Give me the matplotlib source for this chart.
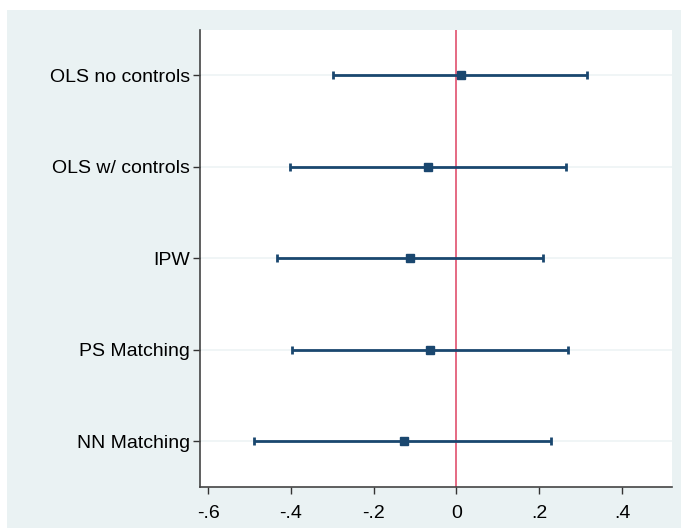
import matplotlib
matplotlib.use("Agg")
from matplotlib import pyplot as plt
from matplotlib.patches import Rectangle
import numpy as np

# estimates
models = ["OLS no controls", "OLS w/ controls", "IPW", "PS Matching", "NN Matching"]
coef = [0.010, -0.070, -0.112, -0.065, -0.128]
ci_low = [-0.298, -0.402, -0.434, -0.398, -0.490]
ci_high = [0.315, 0.264, 0.208, 0.269, 0.228]
xticks = [-0.6, -0.4, -0.2, 0, 0.2, 0.4]
xticklabels = ["-.6", "-.4", "-.2", "0", ".2", ".4"]

navy = "#1a476f"
bg = "#eaf2f3"

plt.rcParams["font.family"] = ["Liberation Sans", "DejaVu Sans"]

fig = plt.figure(figsize=(6.81, 5.28), dpi=100, facecolor="white")
W, H = 681, 528
fig.patches.append(Rectangle((7 / W, 0), 1 - 7 / W, 1 - 10 / H, transform=fig.transFigure,
                             facecolor=bg, edgecolor="none", zorder=-10))
ax = fig.add_axes([200 / W, (H - 487) / H, (672 - 200) / W, (487 - 29.5) / H])
ax.set_zorder(5)
ax.set_facecolor("white")

y = np.arange(1, len(models) + 1)
coef = np.array(coef)
err = [coef - np.array(ci_low), np.array(ci_high) - coef]

for yy in y:
    ax.axhline(yy, color="#eef3f5", lw=1.2, zorder=1)
ax.axvline(0, color="#e0506e", lw=1.2, zorder=2)
ax.errorbar(coef, y, xerr=err, fmt="s", color=navy, ms=6, lw=2, capsize=3, capthick=2, zorder=3)

ax.set_ylim(5.5, 0.5)
ax.set_xlim(-0.62, 0.521)
ax.set_yticks(y)
ax.set_yticklabels(models)
ax.set_xticks(xticks)
ax.set_xticklabels(xticklabels)
ax.tick_params(axis="both", labelsize=14, length=5, width=1, color="#333333", direction="out")
ax.tick_params(axis="x", pad=8)
ax.tick_params(axis="y", pad=2)
for s in ["top", "right"]:
    ax.spines[s].set_visible(False)
for s in ["left", "bottom"]:
    ax.spines[s].set_color("#444444")
    ax.spines[s].set_linewidth(1.2)

fig.savefig("out.png", dpi=100, facecolor=fig.get_facecolor())
